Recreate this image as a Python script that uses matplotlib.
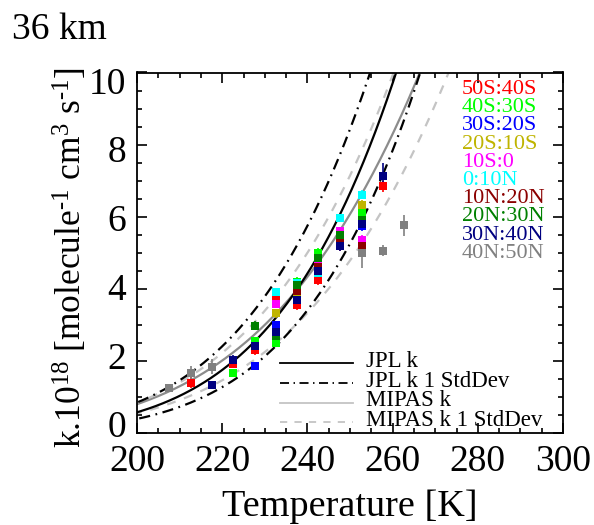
import numpy as np
import matplotlib
matplotlib.use("Agg")
import matplotlib.pyplot as plt
from matplotlib.transforms import ScaledTranslation

plt.rcParams['font.family'] = ['Liberation Serif', 'DejaVu Serif']
plt.rcParams['mathtext.fontset'] = 'custom'
plt.rcParams['mathtext.rm'] = 'Liberation Serif'
plt.rcParams['mathtext.it'] = 'Liberation Serif:italic'

# Temperature bin centres [K]
temps = [207.6, 212.6, 217.6, 222.6, 227.7, 232.6, 237.6, 242.6, 247.7, 252.7, 257.7, 262.7]
nan = np.nan

# Latitude bands, colours and retrieved k*1e18 per temperature bin
bands = ["50S:40S", "40S:30S", "30S:20S", "20S:10S", "10S:0",
         "0:10N", "10N:20N", "20N:30N", "30N:40N", "40N:50N"]
band_colors = ["#ff0000", "#00ff00", "#0000ff", "#bfb400", "#ff00ff",
               "#00ffff", "#8b0000", "#008000", "#000080", "#808080"]

k_50s40s = [nan, 1.40, nan, 1.92, 2.30, 3.80, 3.55, 4.25, 5.20, 5.25, 6.84, nan]
k_40s30s = [nan, nan, nan, 1.66, 2.54, 2.50, 4.20, 5.00, 5.50, 6.10, nan, nan]
k_30s20s = [nan, nan, nan, nan, 1.86, 3.00, 3.83, 4.60, 5.30, 5.73, nan, nan]
k_20s10s = [nan, nan, nan, nan, nan, 3.32, 3.90, 4.70, 5.36, 6.33, nan, nan]
k_10s0 = [nan, nan, nan, nan, nan, 3.58, 4.07, 4.80, 5.60, 5.36, nan, nan]
k_0n10n = [nan, nan, nan, nan, nan, 3.90, 4.15, 4.45, 5.96, 6.61, nan, nan]
k_10n20n = [nan, nan, nan, nan, nan, nan, 3.95, 4.60, 5.30, 5.18, nan, nan]
k_20n30n = [nan, nan, nan, nan, 2.98, 2.70, 4.10, 4.85, 5.50, 5.92, nan, nan]
k_30n40n = [nan, nan, 1.33, 2.03, 2.40, 2.81, 3.70, 4.50, 5.20, 5.80, 7.14, nan]
k_40n50n = [1.26, 1.67, 1.84, nan, nan, nan, nan, nan, nan, 4.99, 5.06, 5.76]

err_50s40s = [nan, 0.15, nan, 0.12, 0.15, 0.15, 0.15, 0.15, 0.15, 0.15, 0.15, nan]
err_40s30s = [nan, nan, nan, 0.10, 0.12, 0.10, 0.12, 0.12, 0.12, 0.12, nan, nan]
err_30s20s = [nan, nan, nan, nan, 0.10, 0.12, 0.12, 0.12, 0.12, 0.12, nan, nan]
err_20s10s = [nan, nan, nan, nan, nan, 0.12, 0.12, 0.12, 0.12, 0.12, nan, nan]
err_10s0 = [nan, nan, nan, nan, nan, 0.12, 0.12, 0.12, 0.12, 0.12, nan, nan]
err_0n10n = [nan, nan, nan, nan, nan, 0.12, 0.12, 0.12, 0.12, 0.12, nan, nan]
err_10n20n = [nan, nan, nan, nan, nan, nan, 0.12, 0.12, 0.12, 0.12, nan, nan]
err_20n30n = [nan, nan, nan, nan, 0.12, 0.12, 0.12, 0.12, 0.12, 0.12, nan, nan]
err_30n40n = [nan, nan, 0.10, 0.12, 0.12, 0.12, 0.15, 0.15, 0.15, 0.15, 0.35, nan]
err_40n50n = [0.10, 0.20, 0.20, nan, nan, nan, nan, nan, nan, 0.40, 0.15, 0.30]

band_k = [k_50s40s, k_40s30s, k_30s20s, k_20s10s, k_10s0,
          k_0n10n, k_10n20n, k_20n30n, k_30n40n, k_40n50n]
band_err = [err_50s40s, err_40s30s, err_30s20s, err_20s10s, err_10s0,
            err_0n10n, err_10n20n, err_20n30n, err_30n40n, err_40n50n]

# JPL recommendation for NO2 + O3: k = A exp(-E/T), f(T) = f298 exp(g |1/T - 1/298|)
jpl_A = 1.2e-13
jpl_E = 2450.0
jpl_f298 = 1.15
jpl_g = 150.0

# MIPAS Arrhenius fit (A in 1e-18 units) and its 1-sigma envelope
mipas_A, mipas_E = 20160.0, 2027.0
mipas_hi_A, mipas_hi_E = 37260.0, 2140.0
mipas_lo_A, mipas_lo_E = 28600.0, 2174.0

fig = plt.figure(figsize=(5.94, 5.25), dpi=100)
ax = fig.add_axes([137 / 594, 92 / 525, 426 / 594, 360.5 / 525])

T = np.linspace(195, 305, 400)
k_jpl = jpl_A * np.exp(-jpl_E / T) * 1e18
f_jpl = jpl_f298 * np.exp(jpl_g * np.abs(1.0 / T - 1.0 / 298.0))
k_mip = mipas_A * np.exp(-mipas_E / T)
k_mip_hi = mipas_hi_A * np.exp(-mipas_hi_E / T)
k_mip_lo = mipas_lo_A * np.exp(-mipas_lo_E / T)

dashdot = (0, (5, 2.5, 0.8, 2.5))
dashed = (0, (4, 4))
ax.plot(T, k_mip, color="#8c8c8c", lw=1.6, zorder=2)
ax.plot(T, k_mip_hi, color="#c4c4c4", lw=1.6, ls=dashed, zorder=2)
ax.plot(T, k_mip_lo, color="#c4c4c4", lw=1.6, ls=dashed, zorder=2)
ax.plot(T, k_jpl, color="black", lw=1.6, zorder=3)
ax.plot(T, k_jpl * f_jpl, color="black", lw=1.6, ls=dashdot, zorder=3)
ax.plot(T, k_jpl / f_jpl, color="black", lw=1.6, ls=dashdot, zorder=3)

for kv, ev, col in zip(band_k, band_err, band_colors):
    ax.errorbar(temps, kv, yerr=ev, fmt="s", color=col, ms=5.5, mew=0,
                elinewidth=1.2, capsize=3.5, capthick=1.2, zorder=4)

ax.set_xlim(200, 300)
ax.set_ylim(0, 10)
ax.set_xticks([200, 220, 240, 260, 280, 300])
ax.set_yticks([0, 2, 4, 6, 8, 10])
ax.set_xticks(np.arange(200, 301, 5), minor=True)
ax.set_yticks(np.arange(0, 10.01, 0.5), minor=True)
ax.tick_params(which="both", direction="in", top=True, right=True,
               labelsize=27, width=1.2, pad=8)
ax.tick_params(which="major", length=7)
ax.tick_params(which="minor", length=3.5)
for s in ax.spines.values():
    s.set_linewidth(1.3)

# y labels sit slightly inward from the axis ends (top one lower, bottom one higher)
for val, lbl in zip(ax.get_yticks(), ax.get_yticklabels()):
    dy_px = 9.0 - 1.7 * val
    lbl.set_transform(lbl.get_transform() +
                      ScaledTranslation(0, dy_px / 100.0, fig.dpi_scale_trans))

ax.set_xlabel("Temperature [K]", fontsize=27.5, labelpad=8)
ax.set_ylabel(r"k.10$^{\text{18}}$ [molecule$^{\text{-1}}$ cm$^{\text{3}}$ s$^{\text{-1}}$]",
              fontsize=25.5)
ax.yaxis.set_label_coords(-0.11, 0.487)

fig.text(12 / 594, 1 - 39 / 525, "36 km", fontsize=27, ha="left", va="baseline")

# Latitude band key
for i, (name, col) in enumerate(zip(bands, band_colors)):
    fig.text(462 / 594, 1 - (89.5 + 18.2 * i) / 525, name, color=col,
             fontsize=16, ha="left", va="center")

# Curve key
key_labels = ["JPL k", "JPL k 1 StdDev", "MIPAS k", "MIPAS k 1 StdDev"]
key_colors = ["black", "black", "#c4c4c4", "#c4c4c4"]
key_styles = ["-", dashdot, "-", dashed]
key_rows_px = [363.3, 383.3, 402.5, 422.3]
for lab, col, sty, ypx in zip(key_labels, key_colors, key_styles, key_rows_px):
    yf = (433 - ypx) / 360.5
    ax.plot([(280 - 137) / 426, (353 - 137) / 426], [yf, yf], transform=ax.transAxes,
            color=col, lw=1.3, ls=sty, clip_on=False, zorder=5)
    ax.text((366.5 - 137) / 426, yf - 3.5 / 360.5, lab, transform=ax.transAxes,
            fontsize=16.5, ha="left", va="baseline", zorder=5)

fig.savefig("out.png", dpi=100)
